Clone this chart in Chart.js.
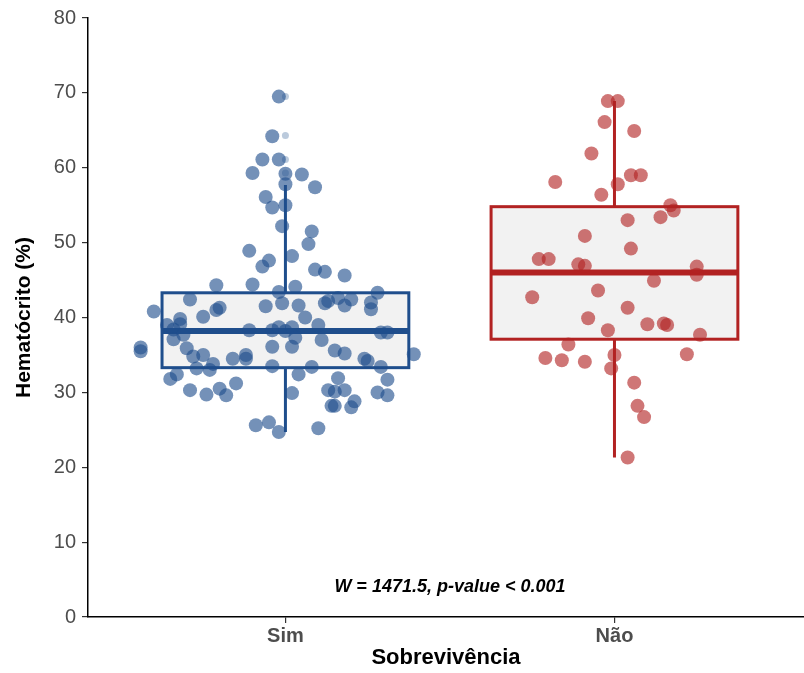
<!DOCTYPE html>
<html>
<head>
<meta charset="utf-8">
<style>
  html, body { margin: 0; padding: 0; background: #fff; overflow: hidden; }
  #wrap { width: 811px; height: 673px; }
  canvas { display: block; }
</style>
</head>
<body>
<div id="wrap"><canvas id="chart"></canvas></div>
<script src="https://cdn.jsdelivr.net/npm/chart.js"></script>
<script>
const categories = ['Sim', 'Não'];

// jittered points: horizontal offset from the category centre, and the value
const simJitter = [-0.02, -0.04, -0.07, -0.02, -0.10, 0.00, 0.05, 0.00, 0.09, -0.06,
  -0.04, 0.00, -0.01, 0.08, 0.07, -0.11, 0.02, -0.05, -0.07, 0.09,
  0.12, 0.18, -0.21, -0.10, -0.02, 0.03, -0.29, -0.40, -0.21, -0.20,
  -0.25, -0.06, -0.01, 0.04, 0.06, 0.12, 0.13, 0.16, 0.18, 0.20,
  0.26, 0.26, 0.28, -0.36, -0.32, -0.32, -0.34, -0.34, -0.31, -0.11,
  -0.04, -0.02, 0.00, 0.02, 0.03, 0.10, 0.11, -0.04, 0.02, 0.29,
  0.31, -0.44, -0.44, -0.30, -0.28, -0.25, -0.16, -0.12, -0.12, 0.15,
  0.18, 0.24, 0.25, 0.39, -0.27, -0.23, -0.22, -0.04, 0.08, 0.29,
  -0.35, -0.33, 0.04, 0.16, 0.31, -0.29, -0.24, -0.20, -0.18, -0.15,
  0.02, 0.13, 0.15, 0.18, 0.14, 0.15, 0.20, 0.21, 0.28, 0.31,
  -0.09, -0.05, -0.02, 0.10];
const simValues = [69.5, 64.2, 61.1, 61.1, 59.3, 59.2, 59.1, 57.8, 57.4, 56.1,
  54.7, 55.0, 52.2, 51.5, 49.8, 48.9, 48.2, 47.6, 46.8, 46.4,
  46.1, 45.6, 44.3, 44.4, 43.4, 44.1, 42.4, 40.8, 41.0, 41.3,
  40.1, 41.5, 41.9, 41.6, 40.0, 41.9, 42.2, 42.6, 41.6, 42.4,
  42.0, 41.1, 43.3, 39.0, 39.8, 39.1, 38.4, 37.1, 37.7, 38.3,
  38.3, 38.7, 38.2, 38.7, 37.3, 39.0, 37.0, 36.1, 36.1, 38.0,
  38.0, 36.0, 35.5, 35.9, 34.8, 35.0, 34.5, 35.0, 34.5, 35.6,
  35.2, 34.5, 34.2, 35.1, 33.2, 33.0, 33.8, 33.5, 33.4, 33.4,
  31.8, 32.4, 32.4, 31.9, 31.7, 30.3, 29.7, 30.5, 29.6, 31.2,
  29.9, 30.3, 30.1, 30.3, 28.2, 28.2, 28.0, 28.8, 30.0, 29.6,
  25.6, 26.0, 24.7, 25.2];

const naoJitter = [-0.02, 0.01, -0.03, 0.06, -0.07, -0.18, 0.05, 0.08, 0.01, -0.04,
  0.17, 0.18, 0.14, 0.04, -0.09, 0.05, -0.23, -0.20, -0.11, -0.09,
  0.25, 0.25, 0.12, -0.25, -0.05, 0.04, -0.08, -0.02, 0.10, 0.15,
  0.16, 0.26, -0.14, -0.21, -0.16, -0.09, 0.00, -0.01, 0.22, 0.06,
  0.07, 0.09, 0.04];
const naoValues = [68.9, 68.9, 66.1, 64.9, 61.9, 58.1, 59.0, 59.0, 57.8, 56.4,
  55.0, 54.3, 53.4, 53.0, 50.9, 49.2, 47.8, 47.8, 47.1, 46.9,
  46.8, 45.7, 44.9, 42.7, 43.6, 41.3, 39.9, 38.3, 39.1, 39.2,
  39.0, 37.7, 36.4, 34.6, 34.3, 34.1, 35.0, 33.2, 35.1, 31.3,
  28.2, 26.7, 21.3];

// boxplot summaries per category
const q1 = [33.3, 37.1];
const medians = [38.2, 46.0];
const q3 = [43.3, 54.8];
const whiskerLow = [24.7, 21.3];
const whiskerHigh = [57.7, 68.9];
const simOutliers = [59.3, 61.1, 64.3, 69.5];

const yTicks = [0, 10, 20, 30, 40, 50, 60, 70, 80];
const testLabel = 'W = 1471.5, p-value < 0.001';

const lineColors = ['#1F4E8C', '#B22222'];
const pointColors = ['rgba(31,78,140,0.62)', 'rgba(178,34,34,0.62)'];
const boxWidth = 0.75;
const font = 'Liberation Sans, Arial, sans-serif';

const boxes = {
  id: 'boxes',
  beforeDatasetsDraw(chart) {
    const { ctx, scales: { x, y } } = chart;
    ctx.save();
    categories.forEach((c, i) => {
      const cx = x.getPixelForValue(i + 1);
      const left = x.getPixelForValue(i + 1 - boxWidth / 2);
      const right = x.getPixelForValue(i + 1 + boxWidth / 2);
      const top = y.getPixelForValue(q3[i]);
      const bottom = y.getPixelForValue(q1[i]);
      ctx.strokeStyle = lineColors[i];
      ctx.fillStyle = '#F2F2F2';
      ctx.fillRect(left, top, right - left, bottom - top);
      ctx.lineWidth = 3;
      ctx.beginPath();
      ctx.moveTo(cx, top);
      ctx.lineTo(cx, y.getPixelForValue(whiskerHigh[i]));
      ctx.moveTo(cx, bottom);
      ctx.lineTo(cx, y.getPixelForValue(whiskerLow[i]));
      ctx.stroke();
      ctx.strokeRect(left, top, right - left, bottom - top);
      ctx.lineWidth = 6;
      const m = y.getPixelForValue(medians[i]);
      ctx.beginPath();
      ctx.moveTo(left, m);
      ctx.lineTo(right, m);
      ctx.stroke();
    });
    ctx.restore();
  },
  afterDatasetsDraw(chart) {
    const { ctx, scales: { x, y } } = chart;
    ctx.save();
    ctx.font = 'italic bold 18px ' + font;
    ctx.fillStyle = '#000';
    ctx.textAlign = 'center';
    ctx.textBaseline = 'middle';
    ctx.fillText(testLabel, x.getPixelForValue(1.5), y.getPixelForValue(4));
    ctx.restore();
  }
};

new Chart(document.getElementById('chart'), {
  type: 'scatter',
  data: {
    datasets: [
      {
        data: simValues.map((v, k) => ({ x: 1 + simJitter[k], y: v })),
        backgroundColor: pointColors[0], borderWidth: 0, pointRadius: 7
      },
      {
        data: naoValues.map((v, k) => ({ x: 2 + naoJitter[k], y: v })),
        backgroundColor: pointColors[1], borderWidth: 0, pointRadius: 7
      },
      {
        data: simOutliers.map(v => ({ x: 1, y: v })),
        backgroundColor: 'rgba(31,78,140,0.3)', borderWidth: 0, pointRadius: 3.5
      }
    ]
  },
  options: {
    responsive: true,
    maintainAspectRatio: false,
    animation: false,
    layout: { padding: { top: 17, right: 0, left: 0, bottom: 0 } },
    plugins: { legend: { display: false }, tooltip: { enabled: false } },
    scales: {
      x: {
        type: 'linear', min: 0.4, max: 2.576,
        afterBuildTicks(s) { s.ticks = categories.map((c, i) => ({ value: i + 1 })); },
        afterFit(s) { s.height = 56; },
        ticks: {
          callback: v => categories[v - 1],
          color: '#4D4D4D', font: { family: font, size: 20, weight: 'bold' },
          padding: 1, autoSkip: false, maxRotation: 0
        },
        grid: { drawOnChartArea: false, tickLength: 6, color: '#333', lineWidth: 1.2 },
        border: { color: '#000', width: 1.5 },
        title: {
          display: true, text: 'Sobrevivência', color: '#000',
          font: { family: font, size: 22, weight: 'bold' }, padding: { top: 2, bottom: 2 }
        }
      },
      y: {
        min: 0, max: 80,
        afterBuildTicks(s) { s.ticks = yTicks.map(v => ({ value: v })); },
        afterFit(s) { s.width = 88; },
        ticks: { color: '#4D4D4D', font: { family: font, size: 20 }, padding: 6 },
        grid: { drawOnChartArea: false, tickLength: 6, color: '#333', lineWidth: 1.2 },
        border: { color: '#000', width: 1.5 },
        title: {
          display: true, text: 'Hematócrito (%)', color: '#000',
          font: { family: font, size: 21, weight: 'bold' }, padding: { top: 12, bottom: 0 }
        }
      }
    }
  },
  plugins: [boxes]
});
</script>
</body>
</html>
